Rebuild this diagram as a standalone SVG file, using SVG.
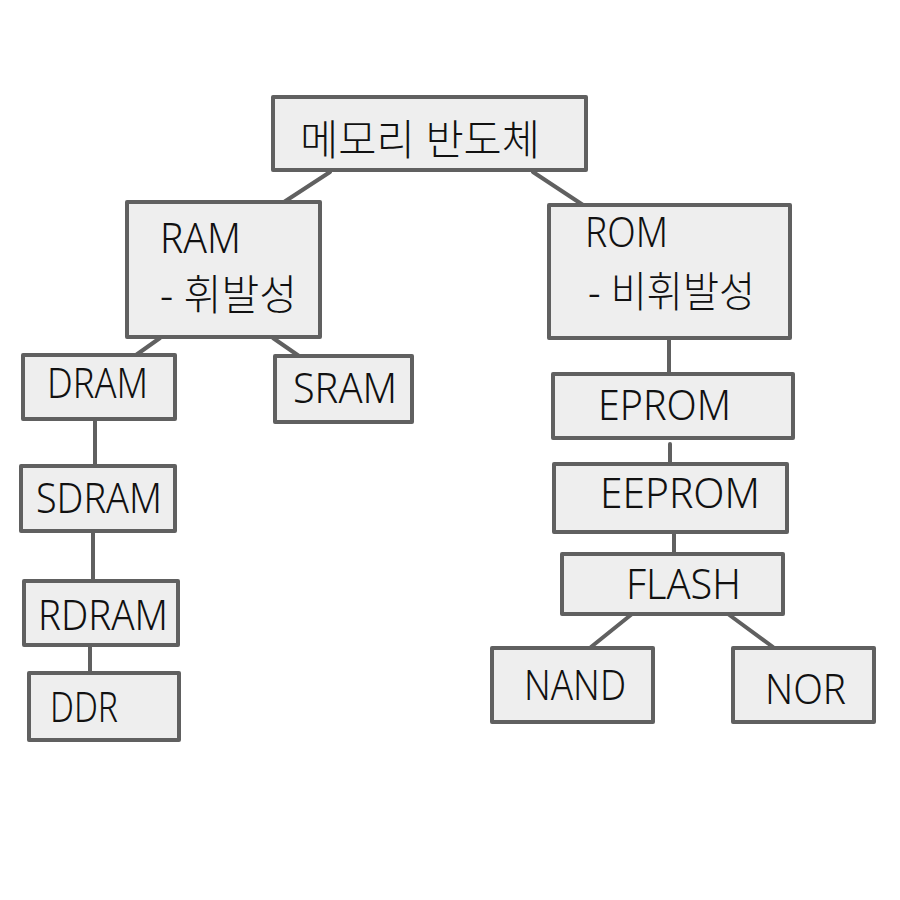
<svg xmlns="http://www.w3.org/2000/svg" width="900" height="900" viewBox="0 0 900 900">
<style>
.box{fill:#eeeeee;stroke:#606060;stroke-width:4;stroke-linejoin:round}
.ln{stroke:#606060;stroke-width:4;fill:none;stroke-linecap:round}
text{font-family:"Noto Sans","Noto Sans CJK KR",sans-serif;font-weight:300;font-size:42px;fill:#111}
</style>
<rect width="900" height="900" fill="#ffffff"/>
<g id="connectors">
<line class="ln" x1="330" y1="172" x2="284" y2="202"/>
<line class="ln" x1="533" y1="172" x2="583" y2="205"/>
<line class="ln" x1="160" y1="338" x2="136" y2="355"/>
<line class="ln" x1="273" y1="338" x2="299" y2="356"/>
<line class="ln" x1="95" y1="415" x2="95" y2="466"/>
<line class="ln" x1="93" y1="531" x2="93" y2="581"/>
<line class="ln" x1="90" y1="645" x2="90" y2="678"/>
<line class="ln" x1="669" y1="338" x2="669" y2="374"/>
<line class="ln" x1="670" y1="444" x2="670" y2="464"/>
<line class="ln" x1="674" y1="532" x2="674" y2="556"/>
<line class="ln" x1="632" y1="614" x2="591" y2="647"/>
<line class="ln" x1="728" y1="614" x2="773" y2="647"/>
</g>
<g id="root"><rect class="box" x="273" y="97" width="313" height="73"/><text x="300" y="155" textLength="240" lengthAdjust="spacingAndGlyphs">메모리 반도체</text></g>
<g id="ram"><rect class="box" x="127" y="202" width="193" height="135"/><text x="160" y="253" textLength="81" lengthAdjust="spacingAndGlyphs">RAM</text><text x="160" y="310" textLength="137" lengthAdjust="spacingAndGlyphs">- 휘발성</text></g>
<g id="rom"><rect class="box" x="549" y="205" width="241" height="133"/><text x="585" y="247" textLength="83" lengthAdjust="spacingAndGlyphs">ROM</text><text x="588" y="307" textLength="167" lengthAdjust="spacingAndGlyphs">- 비휘발성</text></g>
<g id="dram"><rect class="box" x="23" y="355" width="152" height="64"/><text x="47" y="398" textLength="101" lengthAdjust="spacingAndGlyphs">DRAM</text></g>
<g id="sram"><rect class="box" x="275" y="356" width="137" height="66"/><text x="293" y="403" textLength="104" lengthAdjust="spacingAndGlyphs">SRAM</text></g>
<g id="sdram"><rect class="box" x="21" y="466" width="154" height="65"/><text x="36" y="513" textLength="126" lengthAdjust="spacingAndGlyphs">SDRAM</text></g>
<g id="rdram"><rect class="box" x="24" y="581" width="154" height="64"/><text x="38" y="630" textLength="130" lengthAdjust="spacingAndGlyphs">RDRAM</text></g>
<g id="ddr"><rect class="box" x="29" y="673" width="150" height="67"/><text x="50" y="722" textLength="68" lengthAdjust="spacingAndGlyphs">DDR</text></g>
<g id="eprom"><rect class="box" x="553" y="374" width="240" height="64"/><text x="598" y="420" textLength="133" lengthAdjust="spacingAndGlyphs">EPROM</text></g>
<g id="eeprom"><rect class="box" x="554" y="464" width="233" height="68"/><text x="600" y="508" textLength="160" lengthAdjust="spacingAndGlyphs">EEPROM</text></g>
<g id="flash"><rect class="box" x="562" y="554" width="221" height="60"/><text x="626" y="599" textLength="115" lengthAdjust="spacingAndGlyphs">FLASH</text></g>
<g id="nand"><rect class="box" x="492" y="648" width="161" height="74"/><text x="524" y="700" textLength="102" lengthAdjust="spacingAndGlyphs">NAND</text></g>
<g id="nor"><rect class="box" x="733" y="648" width="141" height="74"/><text x="765" y="704" textLength="81" lengthAdjust="spacingAndGlyphs">NOR</text></g>
</svg>
